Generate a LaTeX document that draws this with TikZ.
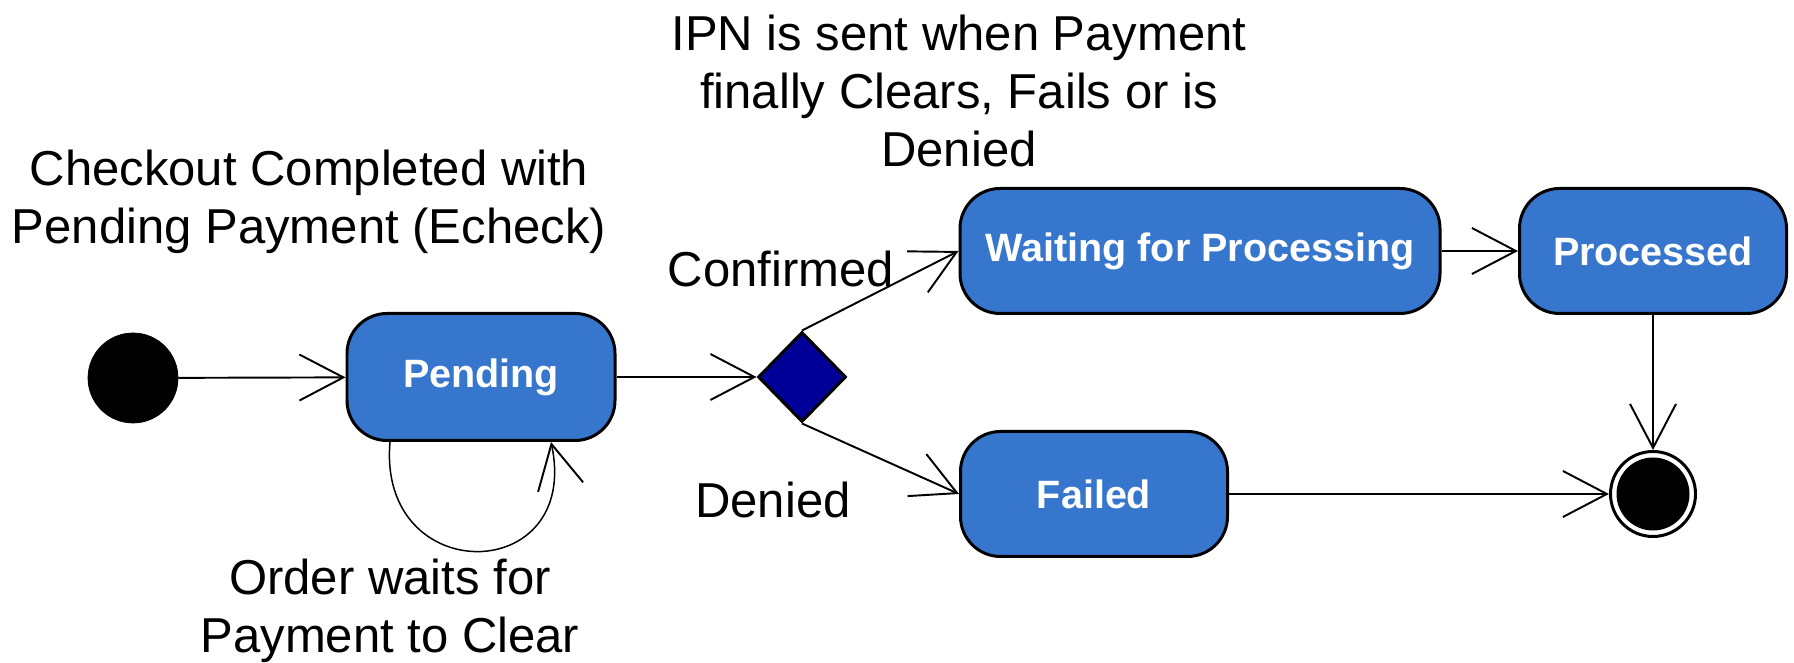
\documentclass[tikz,border=0pt]{standalone}
\usepackage{fontspec}
\setmainfont{Liberation Sans}
\usetikzlibrary{shapes.geometric,arrows.meta}
\definecolor{stateblue}{RGB}{54,118,205}
\definecolor{choicenavy}{RGB}{0,0,153}

\begin{document}
\begin{tikzpicture}[
  state/.style={draw=black, line width=1.7pt, fill=stateblue, rounded corners=0.8cm,
    minimum height=2.5cm, inner sep=0, text=white, font=\fontsize{22.5}{27}\selectfont\bfseries},
  trans/.style={line width=1.1pt, -{Straight Barb[length=0.88cm, width=0.92cm, line width=1.1pt]}},
  lbl/.style={align=center, font=\fontsize{27.9}{33}\selectfont}]
\useasboundingbox (0,0) rectangle (35.88,13.26);
\node[circle, fill=black, draw=black, minimum size=1.8cm, inner sep=0] (start) at (2.66,5.70) {};
\node[state, minimum width=5.36cm, minimum height=2.54cm] (pending) at (9.62,5.72) {Pending};
\node[diamond, draw=black, line width=1.7pt, fill=choicenavy, minimum width=1.76cm, minimum height=1.8cm, inner sep=0] (choice) at (16.04,5.72) {};
\node[state, minimum width=9.6cm] (waiting) at (24.0,8.24) {Waiting for Processing};
\node[state, minimum width=5.34cm] (processed) at (33.06,8.24) {Processed};
\node[state, minimum width=5.34cm] (failed) at (21.88,3.38) {Failed};
\node[circle, draw=black, line width=1.7pt, fill=white, minimum size=1.7cm, inner sep=0] (finish) at (33.06,3.38) {};
\node[circle, fill=black, minimum size=1.46cm, inner sep=0] (finishdot) at (finish) {};
% labels
\node[lbl] (checkoutlbl) at (6.18,9.22) {Checkout Completed with\\Pending Payment (Echeck)};
\node[lbl] (ipnlbl) at (19.18,11.44) {IPN is sent when Payment\\finally Clears, Fails or is\\Denied};
\node[lbl] (confirmedlbl) at (15.62,7.88) {Confirmed};
\node[lbl] (deniedlbl) at (15.46,3.26) {Denied};
\node[lbl] (waitlbl) at (7.8,1.04) {Order waits for\\Payment to Clear};
% transitions
\draw[trans] (start) -- (pending);
\draw[trans] (pending) -- (choice);
\draw[trans] (choice.north) -- (waiting.west);
\draw[trans] (choice.south) -- (failed.west);
\draw[trans] (waiting) -- (processed);
\draw[trans] (processed) -- (finish);
\draw[trans] (failed) -- (finish);
\draw[trans, line width=0.85pt] ([xshift=-1.82cm]pending.south) to[out=-95, in=-78, looseness=2.35] ([xshift=1.40cm]pending.south);
\end{tikzpicture}
\end{document}
